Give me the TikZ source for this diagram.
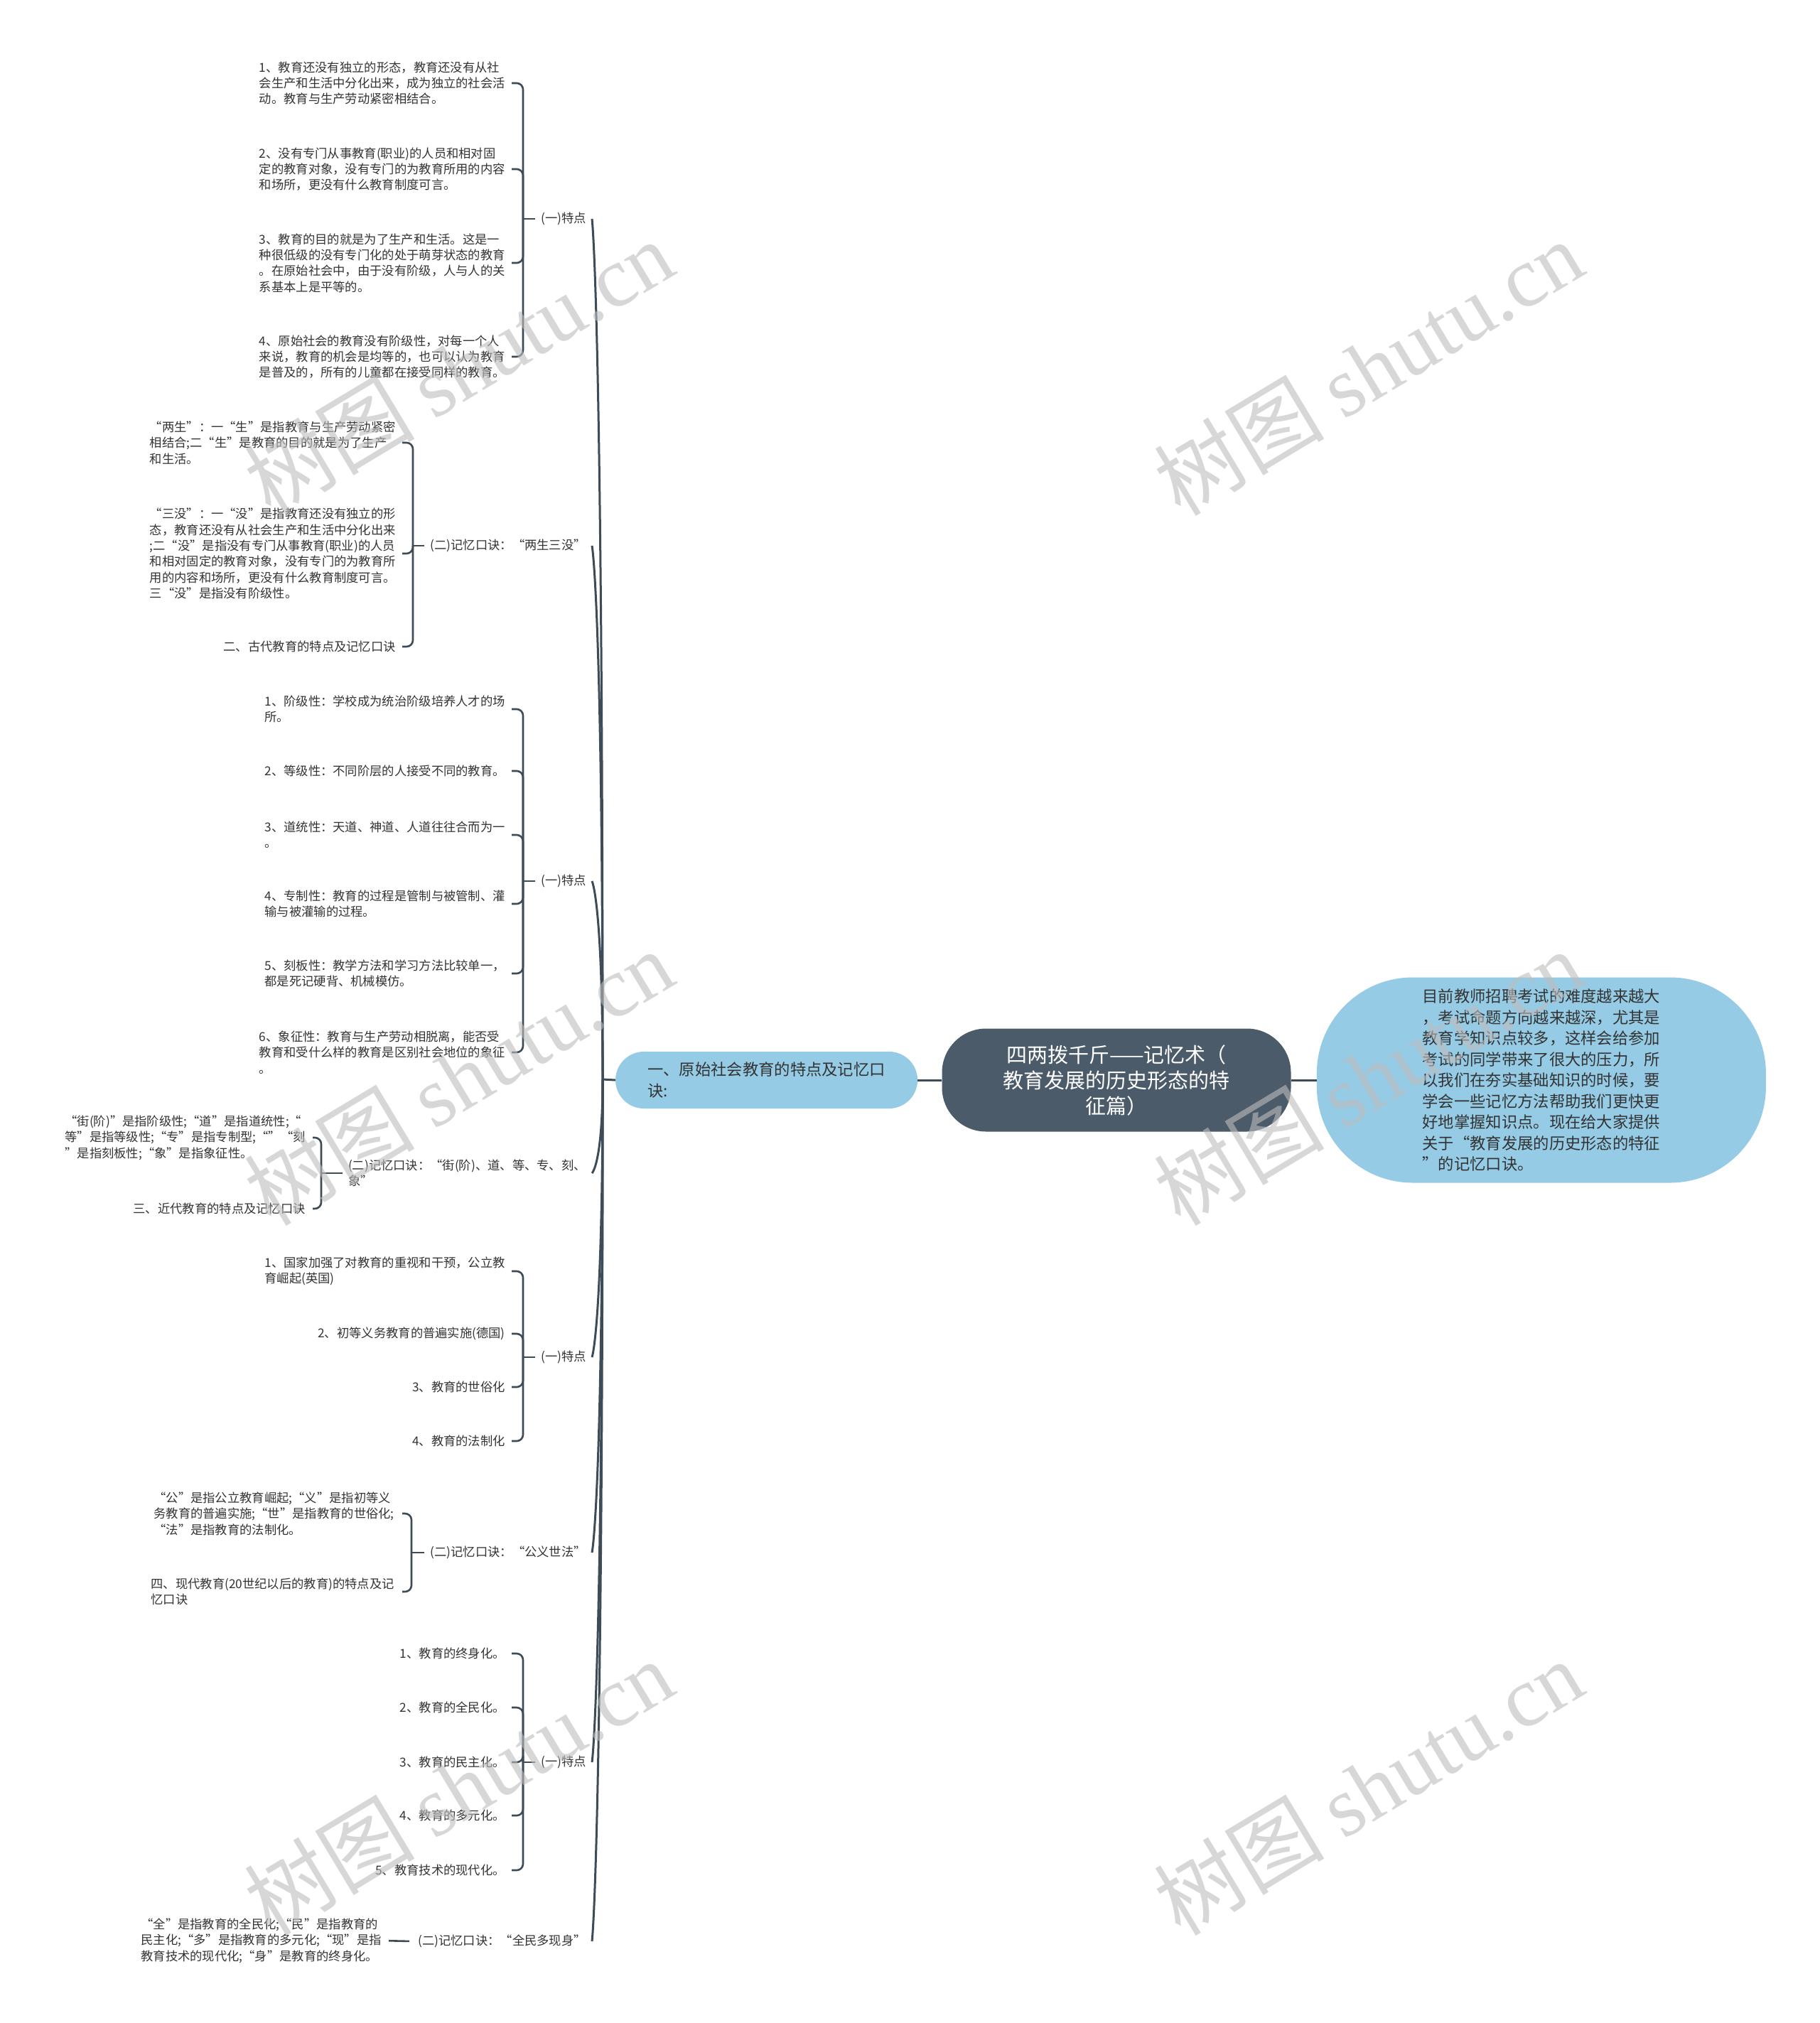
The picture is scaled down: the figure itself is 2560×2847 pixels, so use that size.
\documentclass[tikz,border=0pt]{standalone}
\usepackage{fontspec}
\setmainfont{Noto Sans CJK SC}
\newfontfamily\markfont{Liberation Serif}
\usepackage{xcolor}
\usetikzlibrary{positioning}
\definecolor{ink}{HTML}{3E4C58}
\definecolor{rootbg}{HTML}{4B5B6A}
\definecolor{topicbg}{HTML}{95CBE4}
\definecolor{txt}{HTML}{333333}
\definecolor{markgray}{HTML}{BDBDBD}
\newcommand\leaffont{\fontsize{17.3}{22.4}\selectfont}
\newcommand\topicfont{\fontsize{22.3}{29.5}\selectfont}
\newcommand\rootfont{\fontsize{29}{36}\selectfont}
\tikzset{
  leaf/.style={font=\leaffont,text=txt,align=left,inner sep=0pt,anchor=east},
  branch/.style={font=\leaffont,text=txt,align=left,inner xsep=8pt,inner ysep=2pt,anchor=east},
  brace/.style={draw=ink,line width=2.6pt,rounded corners=9pt},
  trunk/.style={draw=ink,line width=3pt},
  wmark/.style={rotate=31,text=markgray,opacity=0.6,inner sep=0pt,
                font=\fontsize{120}{120}\selectfont}
}

\begin{document}
\begin{tikzpicture}[x=1pt,y=-1pt]
  \fill[white] (0,0) rectangle (2560,2847);
  \useasboundingbox (0,0) rectangle (2560,2847);

  % centre and the two topics
  \node[fill=rootbg,text=white,rounded corners=62pt,minimum width=491pt,minimum height=145pt,
        align=center,font=\rootfont,inner sep=0pt] (root) at (1571,1520)
  {四两拨千斤——记忆术（\\教育发展的历史形态的特\\征篇）};
  \node[fill=topicbg,text=txt,rounded corners=135pt,minimum width=632pt,minimum height=289pt,
        align=left,font=\topicfont,inner sep=0pt,right=36pt of root] (intro)
  {目前教师招聘考试的难度越来越大\\，考试命题方向越来越深，尤其是\\教育学知识点较多，这样会给参加\\
   考试的同学带来了很大的压力，所\\以我们在夯实基础知识的时候，要\\学会一些记忆方法帮助我们更快更\\
   好地掌握知识点。现在给大家提供\\关于“教育发展的历史形态的特征\\”的记忆口诀。};
  \node[fill=topicbg,text=txt,rounded corners=40pt,minimum width=425pt,minimum height=80pt,
        align=left,font=\topicfont,inner sep=0pt,left=34pt of root] (topic)
  {一、原始社会教育的特点及记忆口\\诀:};
  \draw[trunk] (root.east) -- (intro.west);
  \draw[trunk] (root.west) -- (topic.east);
  \coordinate (hub) at (848,1519);
  \draw[trunk] (topic.west) -- (hub);

  % branch labels
  \node[branch] (A) at (833,308)  {(一)特点};
  \node[branch] (B) at (833,768)  {(二)记忆口诀：“两生三没”};
  \node[branch] (C) at (833,1240) {(一)特点};
  \node[branch] (D) at (833,1651) {(二)记忆口诀：“街(阶)、道、等、专、刻、\\象”};
  \node[branch] (E) at (833,1910) {(一)特点};
  \node[branch] (F) at (833,2185) {(二)记忆口诀：“公义世法”};
  \node[branch] (G) at (833,2480) {(一)特点};
  \node[branch] (H) at (833,2732) {(二)记忆口诀：“全民多现身”};
  \foreach \nm/\yy in {A/308,B/768,C/1240,D/1651,E/1910,F/2185,G/2480,H/2732}{
    \pgfmathsetmacro\cy{\yy+0.1*(1519-\yy)}
    \draw[trunk] (hub) .. controls (848,\cy) and (833,\yy) .. (\nm.east);
  }

  % 原始社会
  \node[leaf] (a1) at (711,117) {1、教育还没有独立的形态，教育还没有从社\\会生产和生活中分化出来，成为独立的社会活\\动。教育与生产劳动紧密相结合。};
  \node[leaf] (a2) at (711,238) {2、没有专门从事教育(职业)的人员和相对固\\定的教育对象，没有专门的为教育所用的内容\\和场所，更没有什么教育制度可言。};
  \node[leaf] (a3) at (711,370) {3、教育的目的就是为了生产和生活。这是一\\种很低级的没有专门化的处于萌芽状态的教育\\。在原始社会中，由于没有阶级，人与人的关\\系基本上是平等的。};
  \node[leaf] (a4) at (711,502) {4、原始社会的教育没有阶级性，对每一个人\\来说，教育的机会是均等的，也可以认为教育\\是普及的，所有的儿童都在接受同样的教育。};
  \draw[brace] (A.west) -- (736,308) coordinate (Ab);
  \foreach \c in {a1,a2,a3,a4} \draw[brace] (Ab) |- ([xshift=9pt]\c.east);

  \node[leaf] (b1) at (557,623) {“两生”：一“生”是指教育与生产劳动紧密\\相结合;二“生”是教育的目的就是为了生产\\和生活。};
  \node[leaf] (b2) at (557,779) {“三没”：一“没”是指教育还没有独立的形\\态，教育还没有从社会生产和生活中分化出来\\;二“没”是指没有专门从事教育(职业)的人员\\和相对固定的教育对象，没有专门的为教育所\\用的内容和场所，更没有什么教育制度可言。\\三“没”是指没有阶级性。};
  \node[leaf] (b3) at (557,910) {二、古代教育的特点及记忆口诀};
  \draw[brace] (B.west) -- (581,768) coordinate (Bb);
  \foreach \c in {b1,b2,b3} \draw[brace] (Bb) |- ([xshift=9pt]\c.east);

  % 古代
  \node[leaf] (c1) at (711,998)  {1、阶级性：学校成为统治阶级培养人才的场\\所。};
  \node[leaf] (c2) at (711,1085) {2、等级性：不同阶层的人接受不同的教育。};
  \node[leaf] (c3) at (711,1175) {3、道统性：天道、神道、人道往往合而为一\\。};
  \node[leaf] (c4) at (711,1272) {4、专制性：教育的过程是管制与被管制、灌\\输与被灌输的过程。};
  \node[leaf] (c5) at (711,1370) {5、刻板性：教学方法和学习方法比较单一，\\都是死记硬背、机械模仿。};
  \node[leaf] (c6) at (711,1481) {6、象征性：教育与生产劳动相脱离，能否受\\教育和受什么样的教育是区别社会地位的象征\\。};
  \draw[brace] (C.west) -- (736,1240) coordinate (Cb);
  \foreach \c in {c1,c2,c3,c4,c5,c6} \draw[brace] (Cb) |- ([xshift=9pt]\c.east);

  \node[leaf] (d1) at (430,1601) {“街(阶)”是指阶级性;“道”是指道统性;“\\等”是指等级性;“专”是指专制型;“”“刻\\”是指刻板性;“象”是指象征性。};
  \node[leaf] (d2) at (430,1701) {三、近代教育的特点及记忆口诀};
  \draw[brace] (D.west) -- (452,1651) coordinate (Db);
  \foreach \c in {d1,d2} \draw[brace] (Db) |- ([xshift=10pt]\c.east);

  % 近代
  \node[leaf] (e1) at (711,1789) {1、国家加强了对教育的重视和干预，公立教\\育崛起(英国)};
  \node[leaf] (e2) at (711,1877) {2、初等义务教育的普遍实施(德国)};
  \node[leaf] (e3) at (711,1952) {3、教育的世俗化};
  \node[leaf] (e4) at (711,2028) {4、教育的法制化};
  \draw[brace] (E.west) -- (736,1910) coordinate (Eb);
  \foreach \c in {e1,e2,e3,e4} \draw[brace] (Eb) |- ([xshift=9pt]\c.east);

  \node[leaf] (f1) at (555,2130) {“公”是指公立教育崛起;“义”是指初等义\\务教育的普遍实施;“世”是指教育的世俗化;\\“法”是指教育的法制化。};
  \node[leaf] (f2) at (555,2240) {四、现代教育(20世纪以后的教育)的特点及记\\忆口诀};
  \draw[brace] (F.west) -- (579,2185) coordinate (Fb);
  \foreach \c in {f1,f2} \draw[brace] (Fb) |- ([xshift=11pt]\c.east);

  % 现代
  \node[leaf] (g1) at (711,2327) {1、教育的终身化。};
  \node[leaf] (g2) at (711,2403) {2、教育的全民化。};
  \node[leaf] (g3) at (711,2480) {3、教育的民主化。};
  \node[leaf] (g4) at (711,2555) {4、教育的多元化。};
  \node[leaf] (g5) at (711,2632) {5、教育技术的现代化。};
  \draw[brace] (G.west) -- (736,2480) coordinate (Gb);
  \foreach \c in {g1,g2,g3,g4,g5} \draw[brace] (Gb) |- ([xshift=9pt]\c.east);

  \node[leaf] (h1) at (537,2731) {“全”是指教育的全民化;“民”是指教育的\\民主化;“多”是指教育的多元化;“现”是指\\教育技术的现代化;“身”是教育的终身化。};
  \draw[brace,shorten <=4pt,shorten >=10pt] (H.west) -- (h1.east);

  % watermark
  \foreach \wx/\wy in {645/517,1925/517,645/1516,1925/1516,645/2515,1925/2515}
    \node[wmark] at (\wx,\wy) {树图 {\markfont shutu.cn}};
\end{tikzpicture}
\end{document}
